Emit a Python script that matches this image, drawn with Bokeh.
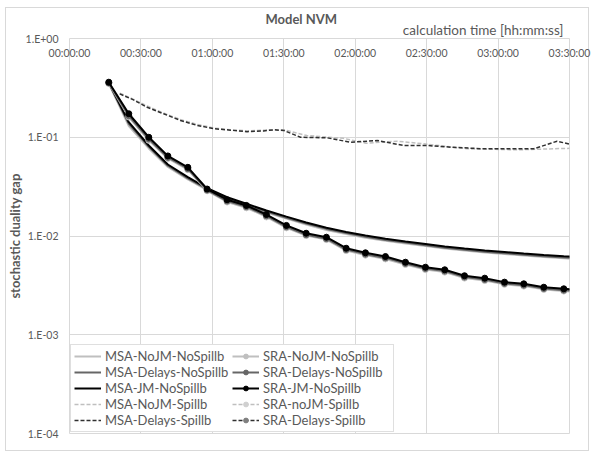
from bokeh.plotting import figure
from bokeh.models import (Range1d, FixedTicker, CustomJSTickFormatter, Legend, LegendItem,
                          Title)
from bokeh.embed import file_html
from bokeh.resources import INLINE

FONT = "Lato"
GREY_TXT = "#595959"

# ---------------- data ----------------
tick_minutes = [0, 30, 60, 90, 120, 150, 180, 210]
tick_labels = ["00:00:00", "00:30:00", "01:00:00", "01:30:00",
               "02:00:00", "02:30:00", "03:00:00", "03:30:00"]
y_ticks = [1e-4, 1e-3, 1e-2, 1e-1, 1.0]

# iteration times (minutes) for the NoSpillb series
time_min = [16.5, 24.9, 33.3, 41.3, 49.7, 57.8, 66.2, 74.3, 82.7, 91.1, 99.4, 107.9,
            116.2, 124.3, 132.7, 141.1, 149.5, 157.6, 165.9, 174.4, 182.7, 190.8,
            199.2, 207.6, 215.9]

msa_nojm_nospill = [0.350, 0.130, 0.0770, 0.0500, 0.0374, 0.0291, 0.0236, 0.0202, 0.0173,
                    0.0150, 0.0131, 0.0115, 0.0105, 0.0096, 0.00893, 0.00838, 0.00790,
                    0.00745, 0.00711, 0.00679, 0.00656, 0.00633, 0.00612, 0.00594, 0.00580]
msa_delays_nospill = [0.355, 0.137, 0.0800, 0.0515, 0.0384, 0.0298, 0.0241, 0.0207, 0.0177,
                      0.0153, 0.0134, 0.0118, 0.0107, 0.0098, 0.00912, 0.00857, 0.00808,
                      0.00762, 0.00727, 0.00694, 0.00670, 0.00647, 0.00625, 0.00607, 0.00592]
msa_jm_nospill = [0.361, 0.142, 0.0825, 0.0530, 0.0394, 0.0305, 0.0247, 0.0212, 0.0181,
                  0.0157, 0.0137, 0.0121, 0.0110, 0.0101, 0.00937, 0.00880, 0.00830,
                  0.00783, 0.00747, 0.00713, 0.00689, 0.00665, 0.00642, 0.00624, 0.00608]

sra_nojm_nospill = [0.350, 0.160, 0.093, 0.0610, 0.0470, 0.0287, 0.0221, 0.0193, 0.0156,
                    0.0121, 0.0101, 0.0092, 0.00712, 0.00640, 0.00586, 0.00515, 0.00457,
                    0.00431, 0.00375, 0.00354, 0.00324, 0.00311, 0.00288, 0.00277, 0.00270]
sra_delays_nospill = [0.355, 0.165, 0.096, 0.0625, 0.0480, 0.0292, 0.0226, 0.0198, 0.0160,
                      0.0124, 0.0103, 0.0094, 0.00728, 0.00655, 0.00600, 0.00527, 0.00468,
                      0.00441, 0.00384, 0.00362, 0.00331, 0.00318, 0.00294, 0.00283, 0.00276]
sra_jm_nospill = [0.361, 0.173, 0.100, 0.0647, 0.0496, 0.0299, 0.0233, 0.0204, 0.0165,
                  0.0128, 0.01067, 0.00972, 0.00752, 0.00676, 0.00620, 0.00543, 0.00483,
                  0.00455, 0.00396, 0.00374, 0.00341, 0.00328, 0.00303, 0.00292, 0.00284]

# Spillb series (dashed)
time_nojm_spill = [21.1, 26.9, 32.6, 39.5, 46.6, 53.6, 60.6, 67.6, 74.6, 81.5, 90.0, 99.7,
                   115.1, 124.6, 137.6, 148.8, 167.0, 188.0, 212.0]
msa_nojm_spill = [0.280, 0.242, 0.207, 0.176, 0.151, 0.135, 0.124, 0.119, 0.116, 0.118,
                  0.119, 0.104, 0.0975, 0.087, 0.0912, 0.0858, 0.0764, 0.0746, 0.0775]
time_delays_spill = [21.1, 26.9, 32.6, 39.5, 46.6, 53.6, 60.6, 67.6, 74.6, 81.5, 85.8, 90.0,
                     97.0, 108.2, 118.0, 129.2, 140.4, 150.2, 160.0, 174.0, 195.0, 204.8, 212.0]
msa_delays_spill = [0.275, 0.239, 0.201, 0.173, 0.148, 0.132, 0.122, 0.118, 0.114, 0.116,
                    0.119, 0.117, 0.100, 0.0987, 0.089, 0.0927, 0.0825, 0.0825, 0.0794,
                    0.0764, 0.0764, 0.0912, 0.0830]
# SRA Spillb series: hidden in the plot area (they lie under the MSA Spillb lines)
sra_nojm_spill = msa_nojm_spill
sra_delays_spill = msa_delays_spill

# ---------------- figure ----------------
W, H = 593, 453
p = figure(width=W, height=H, output_backend="svg", toolbar_location=None,
           title=None, y_axis_type="log", x_axis_location="above",
           x_range=Range1d(0, 210), y_range=Range1d(1e-4, 1.0),
           min_border_left=69, min_border_right=24, min_border_top=38, min_border_bottom=20)
p.background_fill_color = "white"
p.border_fill_color = None
p.outline_line_color = "#d9d9d9"
p.outline_line_width = 1
# thin light-grey chart-area border (drawn behind the transparent canvas border)
p.styles = {
    "background-color": "white",
    "background-image": ("linear-gradient(#d9d9d9,#d9d9d9),linear-gradient(#d9d9d9,#d9d9d9),"
                         "linear-gradient(#d9d9d9,#d9d9d9),linear-gradient(#d9d9d9,#d9d9d9)"),
    "background-size": "584px 1px, 584px 1px, 1px 444px, 1px 444px",
    "background-position": "5px 7px, 5px 450px, 5px 7px, 588px 7px",
    "background-repeat": "no-repeat",
}

# top axis: labels drawn just inside the top edge of the plot area
xa = p.xaxis[0]
xa.ticker = FixedTicker(ticks=tick_minutes, minor_ticks=[])
xa.major_label_overrides = {t: s for t, s in zip(tick_minutes, tick_labels)}
xa.axis_line_color = None
xa.major_tick_line_color = None
xa.minor_tick_line_color = None
xa.major_tick_out = 0
xa.major_tick_in = 0
xa.minor_tick_out = 0
xa.major_label_standoff = -20
xa.major_label_text_font = FONT
xa.major_label_text_font_size = "10.5px"
xa.major_label_text_color = GREY_TXT

calc = Title(text="calculation time [hh:mm:ss]", align="right", offset=6, standoff=2,
             text_font=FONT, text_font_size="13.5px", text_font_style="normal",
             text_color=GREY_TXT)
p.add_layout(calc, "above")
title = Title(text="Model NVM", align="left", offset=196, standoff=-16,
              text_font=FONT, text_font_size="13px", text_font_style="bold",
              text_color=GREY_TXT)
p.add_layout(title, "above")

# grids
p.xgrid[0].ticker = FixedTicker(ticks=tick_minutes, minor_ticks=[])
p.xgrid[0].grid_line_color = "#d9d9d9"
p.ygrid[0].ticker = FixedTicker(ticks=y_ticks, minor_ticks=[])
p.ygrid[0].grid_line_color = "#d9d9d9"

# y axis
ya = p.yaxis[0]
ya.ticker = FixedTicker(ticks=y_ticks, minor_ticks=[])
ya.formatter = CustomJSTickFormatter(code="""
const e = Math.round(Math.log10(tick));
const s = e < 0 ? "-" : "+";
const a = Math.abs(e);
return "1.E" + s + (a < 10 ? "0" + a : "" + a);
""")
ya.axis_line_color = None
ya.major_tick_line_color = None
ya.minor_tick_line_color = None
ya.major_tick_out = 0
ya.major_tick_in = 0
ya.minor_tick_out = 0
ya.major_label_standoff = 11
ya.major_label_text_font = FONT
ya.major_label_text_font_size = "10.5px"
ya.major_label_text_color = GREY_TXT
ya.axis_label = "stochastic duality gap"
ya.axis_label_text_font = FONT
ya.axis_label_text_font_size = "13px"
ya.axis_label_text_font_style = "bold"
ya.axis_label_text_color = GREY_TXT
ya.axis_label_standoff = 0

# ---------------- series ----------------
LIGHT = "#bfbfbf"
MID = "#666666"
DARK = "#000000"
DDASH = "#303030"

items = []

r = p.line(time_min, msa_nojm_nospill, line_color=LIGHT, line_width=2)
items.append(LegendItem(label="MSA-NoJM-NoSpillb", renderers=[r]))
r = p.line(time_min, msa_delays_nospill, line_color=MID, line_width=2)
items.append(LegendItem(label="MSA-Delays-NoSpillb", renderers=[r]))
r = p.line(time_min, msa_jm_nospill, line_color=DARK, line_width=2)
items.append(LegendItem(label="MSA-JM-NoSpillb", renderers=[r]))
r = p.line(time_nojm_spill, msa_nojm_spill, line_color=LIGHT, line_width=1.5, line_dash="4 2")
items.append(LegendItem(label="MSA-NoJM-Spillb", renderers=[r]))
r = p.line(time_delays_spill, msa_delays_spill, line_color=DDASH, line_width=1.5, line_dash="4 2")
items.append(LegendItem(label="MSA-Delays-Spillb", renderers=[r]))


def sra(t, v, color, dash, mcolor, label, visible=True):
    kw = dict(line_color=color, line_width=2 if dash == "solid" else 1.5)
    if dash != "solid":
        kw["line_dash"] = dash
    rl = p.line(t, v, **kw)
    rs = p.scatter(t, v, size=6, fill_color=mcolor, line_color=mcolor)
    rl.visible = visible
    rs.visible = visible
    items.append(LegendItem(label=label, renderers=[rl, rs]))


sra(time_min, sra_nojm_nospill, LIGHT, "solid", LIGHT, "SRA-NoJM-NoSpillb")
sra(time_min, sra_delays_nospill, MID, "solid", MID, "SRA-Delays-NoSpillb")
sra(time_min, sra_jm_nospill, DARK, "solid", DARK, "SRA-JM-NoSpillb")
sra(time_nojm_spill, sra_nojm_spill, LIGHT, "4 2", "#d0d0d0", "SRA-noJM-Spillb", visible=False)
sra(time_delays_spill, sra_delays_spill, DDASH, "4 2", "#7f7f7f", "SRA-Delays-Spillb", visible=False)

legend = Legend(items=items, location=(1, 1), orientation="vertical", nrows=5,
                label_text_font=FONT, label_text_font_size="13px", label_text_color=GREY_TXT,
                glyph_width=27, glyph_height=12, label_height=12, label_width=127, spacing=0,
                label_standoff=4, padding=3, margin=0,
                border_line_color="#bfbfbf", background_fill_color="white",
                background_fill_alpha=1.0)
p.add_layout(legend)

open("out.html", "w").write(file_html(p, INLINE))
